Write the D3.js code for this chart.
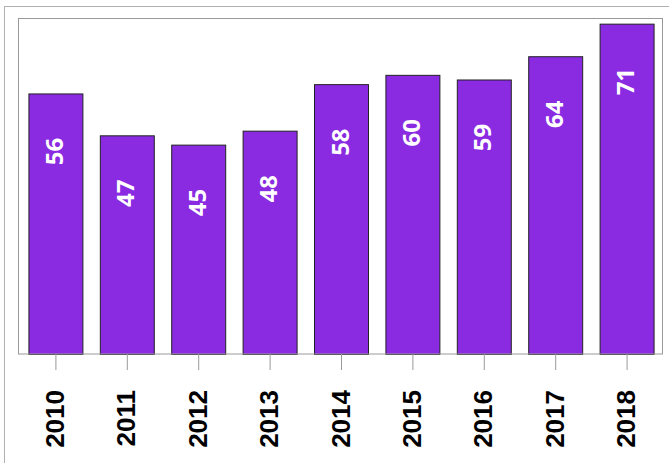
<!DOCTYPE html>
<html>
<head>
<meta charset="utf-8">
<script src="https://cdn.jsdelivr.net/npm/d3@7"></script>
<style>
  body { margin: 0; background: #fff; }
  svg { display: block; }
</style>
</head>
<body>
<div id="chart"></div>
<script>
const years = ["2010", "2011", "2012", "2013", "2014", "2015", "2016", "2017", "2018"];
const values = [56, 47, 45, 48, 58, 60, 59, 64, 71];
const yDomainMax = 72;

const W = 669, H = 463;
const box = { left: 19, top: 19, right: 663, bottom: 354 };

const svg = d3.select("#chart").append("svg")
    .attr("width", W)
    .attr("height", H);

// outer frame (runs off the right and bottom edges)
svg.append("rect")
    .attr("x", 4.5).attr("y", 6.5)
    .attr("width", 800).attr("height", 600)
    .attr("fill", "none")
    .attr("stroke", "#b0b0b0");

const xScale = d3.scaleBand()
    .domain(years)
    .range([box.left, box.right])
    .paddingInner(0.244)
    .paddingOuter(0.132);

const yScale = d3.scaleLinear()
    .domain([0, yDomainMax])
    .range([box.bottom, box.top]);

// bars
svg.selectAll(".bar")
    .data(values)
    .enter()
    .append("rect")
    .attr("class", "bar")
    .attr("x", (d, i) => xScale(years[i]) + 0.5)
    .attr("y", d => yScale(d) + 0.5)
    .attr("width", xScale.bandwidth())
    .attr("height", d => box.bottom - yScale(d))
    .attr("fill", "#8a2be2")
    .attr("stroke", "#222")
    .attr("stroke-width", 1);

// value labels
svg.selectAll(".val")
    .data(values)
    .enter()
    .append("text")
    .attr("class", "val")
    .attr("transform", (d, i) => {
        const cx = xScale(years[i]) + xScale.bandwidth() / 2;
        return `translate(${cx + 7.5}, ${yScale(d) + 58}) rotate(-90)`;
    })
    .attr("text-anchor", "middle")
    .attr("fill", "#fff")
    .style("font-family", "'Open Sans', sans-serif")
    .style("font-weight", "bold")
    .style("font-size", "24px")
    .text(d => d);

// plot box
svg.append("rect")
    .attr("x", box.left - 0.5).attr("y", box.top - 0.5)
    .attr("width", box.right - box.left).attr("height", box.bottom - box.top + 0.5)
    .attr("fill", "none")
    .attr("stroke", "#999");

// x axis
const xAxis = d3.axisBottom(xScale).tickSize(16).tickPadding(20).tickSizeOuter(0);
const gx = svg.append("g")
    .attr("transform", `translate(0.5, ${box.bottom})`)
    .call(xAxis);
gx.select(".domain").remove();
gx.selectAll(".tick line").attr("stroke", "#999");
gx.selectAll(".tick text")
    .attr("transform", "translate(8, 36) rotate(-90)")
    .attr("x", 0).attr("y", 0).attr("dy", 0)
    .attr("text-anchor", "end")
    .attr("fill", "#000")
    .style("font-family", "'Liberation Sans', Arial, sans-serif")
    .style("font-weight", "bold")
    .style("font-size", "26px");
</script>
</body>
</html>
